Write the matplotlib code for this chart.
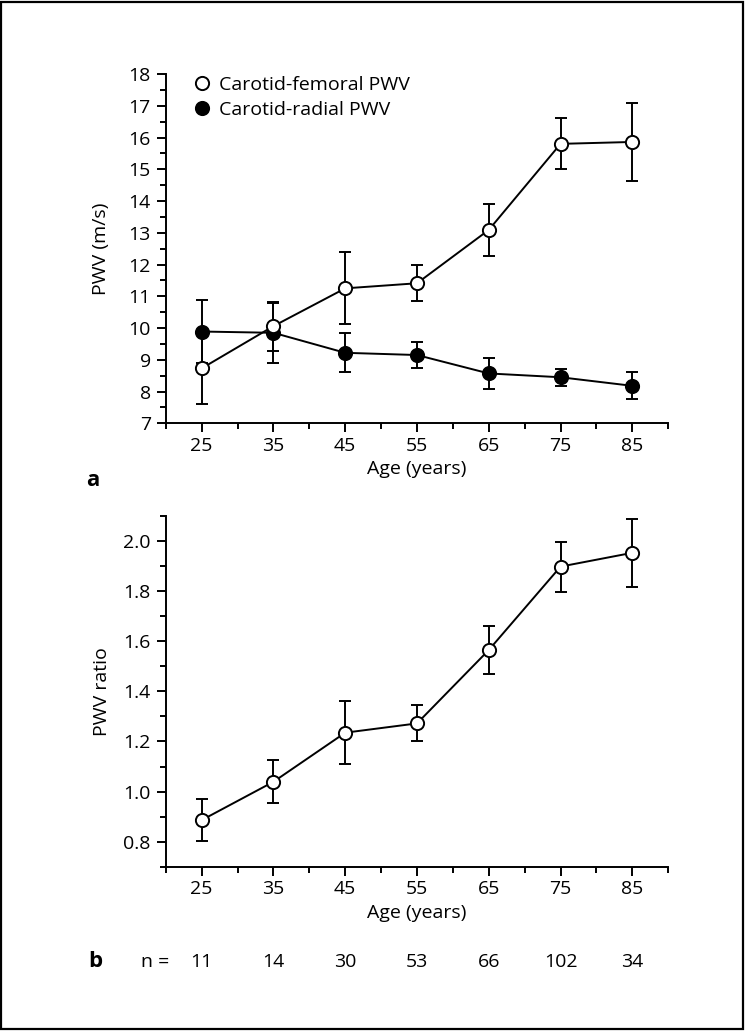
import matplotlib
matplotlib.use("Agg")
import matplotlib.pyplot as plt
from matplotlib.lines import Line2D
from matplotlib.patches import Rectangle
from matplotlib.ticker import MultipleLocator
from matplotlib.transforms import blended_transform_factory

plt.rcParams['font.family'] = ['Open Sans', 'DejaVu Sans']

ages = [25, 35, 45, 55, 65, 75, 85]
cf_pwv = [8.73, 10.06, 11.25, 11.41, 13.09, 15.80, 15.86]
cf_err = [1.13, 0.77, 1.13, 0.56, 0.82, 0.80, 1.22]
cr_pwv = [9.89, 9.85, 9.22, 9.15, 8.57, 8.45, 8.18]
cr_err = [0.99, 0.95, 0.61, 0.42, 0.49, 0.27, 0.42]
ratio = [0.886, 1.039, 1.235, 1.272, 1.565, 1.898, 1.953]
ratio_err = [0.083, 0.086, 0.127, 0.072, 0.095, 0.100, 0.136]
n_counts = [11, 14, 30, 53, 66, 102, 34]

W, H = 745, 1031
fig = plt.figure(figsize=(W / 100, H / 100), dpi=100)

FS = 14
LW = 1.4
MS = 9.5

def px_axes(x0, y0, x1, y1):
    return fig.add_axes([x0 / W, 1 - y1 / H, (x1 - x0) / W, (y1 - y0) / H])

def style(ax):
    for s in ['top', 'right']:
        ax.spines[s].set_visible(False)
    for s in ['left', 'bottom']:
        ax.spines[s].set_linewidth(LW)
    ax.tick_params(which='major', length=6.3, width=LW, labelsize=FS)
    ax.tick_params(which='minor', length=4.3, width=LW)
    ax.tick_params(axis='x', which='major', pad=3.5)
    ax.tick_params(axis='y', which='major', pad=4.5)
    ax.set_xticks(ages)
    ax.set_xticks([20, 30, 40, 50, 60, 70, 80, 90], minor=True)
    ax.set_xlim(20, 90)
    ax.set_xlabel('Age (years)', fontsize=FS, labelpad=4)

ekw = dict(color='black', lw=LW, elinewidth=LW, capsize=4.5, capthick=LW,
           marker='o', ms=MS, mec='black', mew=LW)

# Panel a
ax1 = px_axes(165.8, 74, 668.2, 423.3)
style(ax1)
ax1.errorbar(ages, cr_pwv, yerr=cr_err, mfc='black', zorder=2, **ekw)
ax1.errorbar(ages, cf_pwv, yerr=cf_err, mfc='white', zorder=3, **ekw)
ax1.set_ylim(7, 18)
ax1.yaxis.set_major_locator(MultipleLocator(1))
ax1.yaxis.set_minor_locator(MultipleLocator(0.5))
ax1.set_ylabel('PWV (m/s)', fontsize=FS, labelpad=13)
handles = [Line2D([], [], ls='none', marker='o', ms=MS, mfc='white', mec='black', mew=LW),
           Line2D([], [], ls='none', marker='o', ms=MS, mfc='black', mec='black', mew=LW)]
ax1.legend(handles, ['Carotid-femoral PWV', 'Carotid-radial PWV'], loc='upper left',
           bbox_to_anchor=(0.035, 1.0235), frameon=False, fontsize=FS,
           handlelength=0.9, handletextpad=0.45, labelspacing=0.4, borderpad=0)

# Panel b
ax2 = px_axes(165.8, 516, 668.2, 866.7)
style(ax2)
ax2.errorbar(ages, ratio, yerr=ratio_err, mfc='white', zorder=3, **ekw)
ax2.set_ylim(0.7, 2.1)
ax2.set_yticks([0.8, 1.0, 1.2, 1.4, 1.6, 1.8, 2.0])
ax2.set_yticklabels(['0.8', '1.0', '1.2', '1.4', '1.6', '1.8', '2.0'])
ax2.set_yticks([0.7, 0.9, 1.1, 1.3, 1.5, 1.7, 1.9, 2.1], minor=True)
ax2.set_ylabel('PWV ratio', fontsize=FS, labelpad=9)

# n row
tr = blended_transform_factory(ax2.transData, fig.transFigure)
yn = 1 - 961.7 / H
for a, n in zip(ages, n_counts):
    ax2.text(a, yn, str(n), transform=tr, ha='center', va='center', fontsize=FS)
fig.text(155.5 / W, yn, 'n =', ha='center', va='center', fontsize=FS)

fig.text(93 / W, 1 - 480 / H, 'a', ha='center', va='center', fontsize=16, fontweight='bold')
fig.text(95 / W, yn, 'b', ha='center', va='center', fontsize=16, fontweight='bold')

fig.patches.append(Rectangle((1 / W, 2 / H), 742 / W, 1027 / H, transform=fig.transFigure,
                             fill=False, edgecolor='black', lw=1.6, zorder=10))

fig.savefig('out.png', dpi=100)
